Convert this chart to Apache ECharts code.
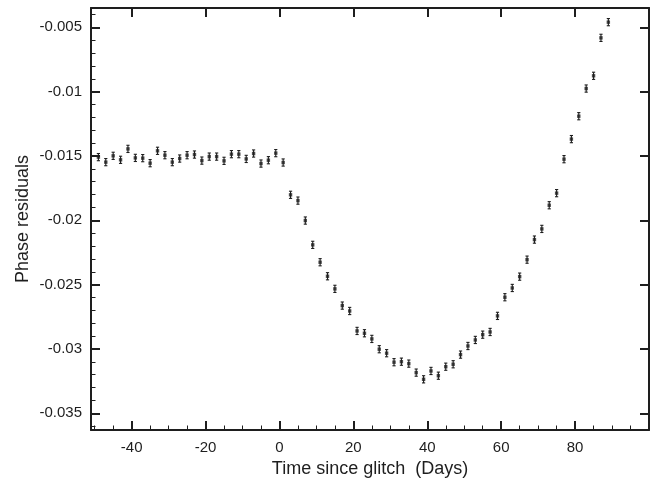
<!DOCTYPE html>
<html>
<head>
<meta charset="utf-8">
<script src="https://cdn.jsdelivr.net/npm/echarts@6/dist/echarts.min.js"></script>
<style>
html,body{margin:0;padding:0;background:#fff;}
#chart{width:660px;height:489px;}
</style>
</head>
<body>
<div id="chart"></div>
<script>
// ---- data ----
var days = [-49,-47,-45,-43,-41,-39,-37,-35,-33,-31,-29,-27,-25,-23,-21,-19,-17,-15,-13,-11,-9,-7,-5,-3,-1,1,
            3,5,7,9,11,13,15,17,19,21,23,25,27,29,31,33,35,37,39,41,43,45,47,49,51,53,
            55,57,59,61,63,65,67,69,71,73,75,77,79,81,83,85,87,89];
var residuals = [-0.01509,-0.01548,-0.01499,-0.01530,-0.01445,-0.01515,-0.01517,-0.01556,-0.01460,-0.01494,
                 -0.01548,-0.01520,-0.01494,-0.01489,-0.01536,-0.01505,-0.01505,-0.01538,-0.01486,-0.01486,
                 -0.01523,-0.01481,-0.01559,-0.01533,-0.01478,-0.01551,
                 -0.01802,-0.01847,-0.02002,-0.02191,-0.02326,-0.02435,-0.02533,-0.02663,-0.02705,-0.02860,
                 -0.02878,-0.02922,-0.03002,-0.03033,-0.03103,-0.03099,-0.03114,-0.03184,-0.03236,-0.03171,
                 -0.03208,-0.03138,-0.03119,-0.03044,-0.02977,-0.02930,
                 -0.02889,-0.02868,-0.02743,-0.02598,-0.02526,-0.02438,-0.02306,-0.02150,-0.02067,-0.01883,
                 -0.01789,-0.01525,-0.01369,-0.01191,-0.00976,-0.00877,-0.00582,-0.00460];
var errorHalf = 0.00028;
var xMajorTicks = [-40,-20,0,20,40,60,80];
var xMinorTicks = [-50,-45,-35,-30,-25,-15,-10,-5,5,10,15,25,30,35,45,50,55,65,70,75,85,90,95];
var yMajorTicks = [-0.005,-0.01,-0.015,-0.02,-0.025,-0.03,-0.035];
var yMinorTicks = [-0.004,-0.006,-0.007,-0.008,-0.009,-0.011,-0.012,-0.013,-0.014,-0.016,-0.017,-0.018,-0.019,
                   -0.021,-0.022,-0.023,-0.024,-0.026,-0.027,-0.028,-0.029,-0.031,-0.032,-0.033,-0.034,-0.036];
var xTitle = 'Time since glitch  (Days)';
var yTitle = 'Phase residuals';

// ---- build ----
var pts = days.map(function(d,i){ return [d, residuals[i]]; });
var errs = days.map(function(d,i){ return [d, residuals[i], errorHalf]; });

var INK = '#1e1e1e';
var FONT = '"Liberation Sans", Arial, sans-serif';
var X_MIN = -51, X_MAX = 100, Y_MIN = -0.0363, Y_MAX = -0.0035;

function xAx(opts){
  return Object.assign({
    type:'value', min:X_MIN, max:X_MAX, gridIndex:0,
    splitLine:{show:false},
    axisLine:{show:false, onZero:false, lineStyle:{color:INK, width:2}},
    axisLabel:{show:false},
    axisTick:{show:false}
  }, opts);
}
function yAx(opts){
  return Object.assign({
    type:'value', min:Y_MIN, max:Y_MAX, gridIndex:0,
    splitLine:{show:false},
    axisLine:{show:false, onZero:false, lineStyle:{color:INK, width:2}},
    axisLabel:{show:false},
    axisTick:{show:false}
  }, opts);
}

var chart = echarts.init(document.getElementById('chart'), null, {renderer:'canvas'});
chart.setOption({
  animation:false,
  backgroundColor:'#fff',
  textStyle:{fontFamily:FONT},
  grid:{left:91, right:11, top:8, bottom:59, containLabel:false},
  xAxis:[
    xAx({position:'bottom',
         axisLine:{show:true, onZero:false, lineStyle:{color:INK, width:2}},
         axisTick:{show:true, inside:true, length:9, customValues:xMajorTicks, lineStyle:{color:INK, width:2}},
         axisLabel:{show:true, customValues:xMajorTicks, margin:10, color:INK, fontSize:15, fontFamily:FONT},
         name:xTitle, nameLocation:'middle', nameGap:30, nameMoveOverlap:false,
         nameTextStyle:{color:INK, fontSize:18, fontFamily:FONT}}),
    xAx({position:'bottom',
         axisTick:{show:true, inside:true, length:4.5, customValues:xMinorTicks, lineStyle:{color:INK, width:1}}}),
    xAx({position:'top',
         axisLine:{show:true, onZero:false, lineStyle:{color:INK, width:2}},
         axisTick:{show:true, inside:true, length:9, customValues:xMajorTicks, lineStyle:{color:INK, width:2}}})
  ],
  yAxis:[
    yAx({position:'left',
         axisLine:{show:true, onZero:false, lineStyle:{color:INK, width:2}},
         axisTick:{show:true, inside:true, length:9, customValues:yMajorTicks, lineStyle:{color:INK, width:2}},
         axisLabel:{show:true, customValues:yMajorTicks, margin:9, color:INK, fontSize:15, fontFamily:FONT},
         name:yTitle, nameLocation:'middle', nameGap:59, nameMoveOverlap:false,
         nameTextStyle:{color:INK, fontSize:18, fontFamily:FONT}}),
    yAx({position:'left',
         axisTick:{show:true, inside:true, length:4.5, customValues:yMinorTicks, lineStyle:{color:INK, width:1}}}),
    yAx({position:'right',
         axisLine:{show:true, onZero:false, lineStyle:{color:INK, width:2}},
         axisTick:{show:true, inside:true, length:9, customValues:yMajorTicks, lineStyle:{color:INK, width:2}}})
  ],
  series:[
    {
      type:'custom', xAxisIndex:0, yAxisIndex:0,
      data:errs,
      encode:{x:0, y:1},
      renderItem:function(params, api){
        var x = api.value(0), y = api.value(1), e = api.value(2);
        var top = api.coord([x, y + e]);
        var bot = api.coord([x, y - e]);
        var cw = 1.6;
        var st = {stroke:INK, lineWidth:1.1};
        return {type:'group', children:[
          {type:'line', shape:{x1:top[0], y1:top[1], x2:bot[0], y2:bot[1]}, style:st},
          {type:'line', shape:{x1:top[0]-cw, y1:top[1], x2:top[0]+cw, y2:top[1]}, style:st},
          {type:'line', shape:{x1:bot[0]-cw, y1:bot[1], x2:bot[0]+cw, y2:bot[1]}, style:st}
        ]};
      },
      z:2
    },
    {
      type:'scatter', xAxisIndex:0, yAxisIndex:0,
      data:pts, symbol:'rect', symbolSize:3.4,
      itemStyle:{color:INK},
      z:3
    }
  ]
});
</script>
</body>
</html>
